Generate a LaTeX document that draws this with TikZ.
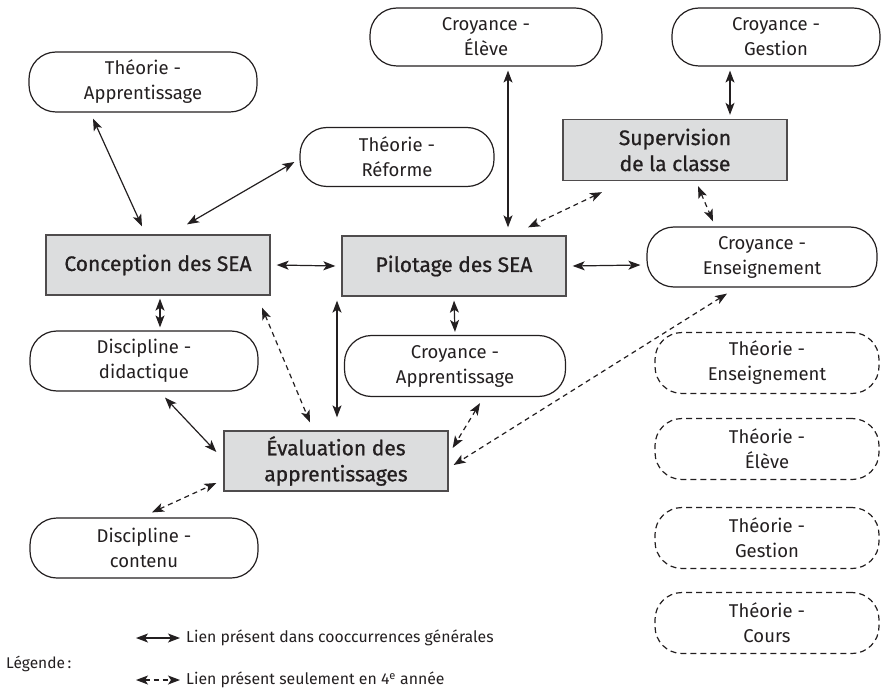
\documentclass[tikz,border=0pt]{standalone}
\usepackage{fontspec}
\setmainfont{Fira Sans}
\newfontfamily\medfont[FakeBold=0.8]{Fira Sans}
\usetikzlibrary{arrows.meta}
\definecolor{boxgray}{HTML}{DCDDDE}
\definecolor{ink}{HTML}{231F20}
\begin{document}
\begin{tikzpicture}[x=1pt,y=-1pt,
  txt/.style={font=\fontsize{18.5}{25}\selectfont, text=ink, align=center, inner sep=0pt},
  rbox/.style={txt, draw=ink, line width=1.2pt, rounded corners=27pt, minimum height=60pt},
  dbox/.style={rbox, dash pattern=on 6pt off 4pt},
  gbox/.style={font=\medfont\fontsize{21}{26}\selectfont, text=ink, align=center, draw=ink!80, fill=boxgray, line width=1.3pt, minimum height=60pt, minimum width=224pt, inner sep=0pt},
  link/.style={draw=ink, line width=1.2pt, {Stealth[length=12pt,width=9pt,inset=3pt]}-{Stealth[length=12pt,width=9pt,inset=3pt]}},
  dlink/.style={link, dash pattern=on 5pt off 4pt}
]
\useasboundingbox (0,0) rectangle (882,692);

% rounded boxes
\node[rbox, minimum width=228pt] (thapp) at (143,82) {Théorie -\\Apprentissage};
\node[rbox, minimum width=232pt, minimum height=58pt] (crel) at (486,37) {Croyance -\\Élève};
\node[rbox, minimum width=208pt, minimum height=58pt] (crges) at (776,37) {Croyance -\\Gestion};
\node[rbox, minimum width=194pt, minimum height=59pt] (thref) at (397,157) {Théorie -\\Réforme};
\node[rbox, minimum width=230pt] (crens) at (762,257) {Croyance -\\Enseignement};
\node[rbox, minimum width=228pt] (discdid) at (144,361) {Discipline -\\didactique};
\node[rbox, minimum width=221pt, minimum height=61pt] (crapp) at (455,366) {Croyance -\\Apprentissage};
\node[rbox, minimum width=228pt] (disccont) at (144,548) {Discipline -\\contenu};

% dashed boxes
\node[dbox, minimum width=224pt, minimum height=61pt] (thens) at (767,363) {Théorie -\\Enseignement};
\node[dbox, minimum width=224pt, minimum height=61pt] (thelv) at (767,449) {Théorie -\\Élève};
\node[dbox, minimum width=224pt, minimum height=61pt] (thges) at (767,538) {Théorie -\\Gestion};
\node[dbox, minimum width=224pt, minimum height=61pt] (thcrs) at (767,623) {Théorie -\\Cours};

% gray boxes
\node[gbox, minimum height=61pt] (sup) at (675,150) {Supervision\\de la classe};
\node[gbox] (conc) at (158,265) {Conception des SEA};
\node[gbox] (pil) at (454,266) {Pilotage des SEA};
\node[gbox] (eval) at (336,461) {Évaluation des\\apprentissages};

% solid links
\draw[link] ([xshift=-50pt,yshift=-6pt]thapp.south) -- ([xshift=-16pt,yshift=8pt]conc.north);
\draw[link] ([xshift=-5pt,yshift=-5pt]thref.west) -- ([xshift=29pt,yshift=10pt]conc.north);
\draw[link] ([xshift=6pt]conc.east) -- ([xshift=-6pt]pil.west);
\draw[link] ([xshift=22pt,yshift=-4pt]crel.south) -- ([xshift=54pt,yshift=8pt]pil.north);
\draw[link] ([xshift=-46pt,yshift=-4pt]crges.south) -- ([xshift=55pt,yshift=4pt]sup.north);
\draw[link] ([xshift=6pt]pil.east) -- ([xshift=-6pt,yshift=-8pt]crens.west);
\draw[link] ([xshift=2pt,yshift=-3pt]conc.south) -- ([xshift=16pt,yshift=3pt]discdid.north);
\draw[link] ([yshift=-4pt]pil.south) -- ([yshift=3pt]crapp.north);
\draw[link] ([xshift=-117pt,yshift=-4pt]pil.south) -- ([xshift=1pt,yshift=13pt]eval.north);
\draw[link] ([xshift=21pt,yshift=-6pt]discdid.south) -- ([xshift=-7pt,yshift=9pt]eval.west);

% dashed links
\draw[dlink] ([xshift=-73pt,yshift=-11pt]sup.south) -- ([xshift=74pt,yshift=8pt]pil.north);
\draw[dlink] ([xshift=23pt,yshift=-5pt]sup.south) -- ([xshift=-49pt,yshift=5pt]crens.north);
\draw[dlink] ([xshift=104pt,yshift=-12pt]conc.south) -- ([xshift=-26pt,yshift=8pt]eval.north);
\draw[dlink] ([xshift=25pt,yshift=-6pt]crapp.south) -- ([xshift=4pt,yshift=13pt]eval.east);
\draw[dlink] ([xshift=-35pt,yshift=-6pt]crens.south) -- ([xshift=5pt,yshift=-4pt]eval.east);
\draw[dlink] ([xshift=8pt,yshift=5pt]disccont.north) -- ([xshift=-7pt,yshift=-22pt]eval.west);

% legend
\node[txt, font=\fontsize{15.5}{18}\selectfont, anchor=west] (leg) at (6,664) {Légende\,:};
\coordinate (la1) at (136,638);
\coordinate (la2) at (180,638);
\coordinate (lb1) at (136,680);
\coordinate (lb2) at (180,680);
\draw[link] (la1) -- (la2);
\draw[dlink] (lb1) -- (lb2);
\node[txt, font=\fontsize{15.8}{18}\selectfont, anchor=west] (lt1) at (186,638) {Lien présent dans cooccurrences générales};
\node[txt, font=\fontsize{15.8}{18}\selectfont, anchor=west] (lt2) at (186,680) {Lien présent seulement en 4\textsuperscript{e} année};
\end{tikzpicture}
\end{document}
